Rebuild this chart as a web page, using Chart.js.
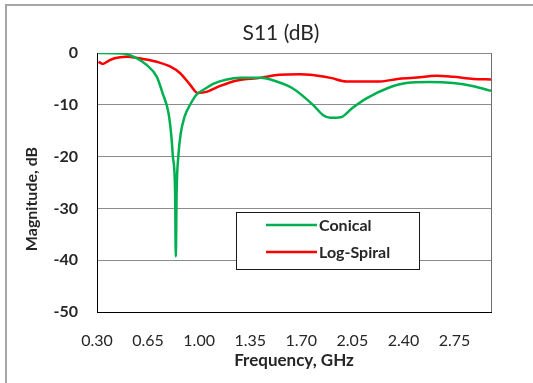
<!DOCTYPE html>
<html>
<head>
<meta charset="utf-8">
<title>S11 (dB)</title>
<script src="https://cdn.jsdelivr.net/npm/chart.js@4/dist/chart.umd.min.js"></script>
<style>
    html, body { margin: 0; padding: 0; background: #fff; }
    #chart { display: block; }
</style>
</head>
<body>
<canvas id="chart" width="533" height="383"></canvas>
<script>
// Data (frequency in GHz, magnitude in dB)
const conicalFreq = [0.31, 0.48, 0.57, 0.64, 0.71, 0.75, 0.79, 0.81, 0.82, 0.835, 0.84, 0.846, 0.857, 0.874, 0.90, 0.94, 0.98, 1.03, 1.10, 1.19, 1.28, 1.42, 1.53, 1.64, 1.78, 1.85, 1.90, 1.97, 2.05, 2.15, 2.29, 2.42, 2.58, 2.74, 2.88, 3.00];
const conicalDb = [0, -0.1, -1.0, -2.3, -4.6, -7.8, -11.6, -16.2, -20, -26.5, -39.3, -26.5, -20, -15.5, -12.3, -9.9, -8.1, -7.1, -5.9, -5.1, -4.8, -4.8, -5.5, -6.8, -10, -12, -12.5, -12.4, -10.6, -8.7, -6.8, -5.8, -5.6, -5.8, -6.4, -7.3];

const spiralFreq = [0.31, 0.34, 0.38, 0.42, 0.50, 0.59, 0.71, 0.80, 0.87, 0.94, 0.99, 1.05, 1.14, 1.26, 1.42, 1.55, 1.69, 1.76, 1.90, 2.01, 2.24, 2.36, 2.47, 2.63, 2.74, 2.88, 3.00];
const spiralDb = [-1.7, -2.1, -1.5, -1.0, -0.7, -1.0, -1.7, -2.6, -3.9, -6.2, -7.7, -7.5, -6.4, -5.3, -4.8, -4.2, -4.1, -4.2, -4.8, -5.5, -5.5, -5.0, -4.8, -4.4, -4.6, -5.0, -5.1];

const seriesNames = ['Conical', 'Log-Spiral'];
const xTickLabels = [0.30, 0.65, 1.00, 1.35, 1.70, 2.05, 2.40, 2.75];
const yTickLabels = [0, -10, -20, -30, -40, -50];

const FONT = 'Lato, "Open Sans", sans-serif';
const TEXT = '#262626';

function toPoints(xs, ys) {
    return xs.map((x, i) => ({ x, y: ys[i] }));
}

// Frame, titles, plot border and boxed legend (Excel look)
const decorations = {
    id: 'decorations',
    beforeDraw(chart) {
        const ctx = chart.ctx;
        ctx.save();
        ctx.fillStyle = '#fff';
        ctx.fillRect(0, 0, chart.width, chart.height);
        ctx.strokeStyle = '#a6a6a6';
        ctx.lineWidth = 2;
        ctx.beginPath();
        ctx.moveTo(6, chart.height);
        ctx.lineTo(6, 5);
        ctx.lineTo(chart.width, 5);
        ctx.stroke();
        ctx.restore();
    },
    afterDraw(chart) {
        const ctx = chart.ctx;
        const area = chart.chartArea;
        ctx.save();

        // right edge of the plot area
        ctx.strokeStyle = '#6e6e6e';
        ctx.lineWidth = 1;
        ctx.beginPath();
        ctx.moveTo(area.right + 0.5, area.top);
        ctx.lineTo(area.right + 0.5, area.bottom);
        ctx.stroke();

        // chart title
        ctx.fillStyle = TEXT;
        ctx.textAlign = 'center';
        ctx.textBaseline = 'middle';
        ctx.font = '21px ' + FONT;
        ctx.fillText('S11 (dB)', 281, 33);

        // y axis title
        ctx.save();
        ctx.translate(32, 199);
        ctx.rotate(-Math.PI / 2);
        ctx.font = 'bold 16px ' + FONT;
        ctx.fillText('Magnitude, dB', 0, 0);
        ctx.restore();

        // legend box
        const box = { left: 236, top: 212, right: 419, bottom: 269 };
        ctx.fillStyle = '#fff';
        ctx.fillRect(box.left, box.top, box.right - box.left, box.bottom - box.top);
        ctx.strokeStyle = '#1a1a1a';
        ctx.lineWidth = 1;
        ctx.strokeRect(box.left + 0.5, box.top + 0.5, box.right - box.left, box.bottom - box.top);

        ctx.font = 'bold 16px ' + FONT;
        ctx.textAlign = 'left';
        chart.data.datasets.forEach((ds, i) => {
            const y = 225 + i * 27;
            ctx.strokeStyle = ds.borderColor;
            ctx.lineWidth = 2.5;
            ctx.beginPath();
            ctx.moveTo(266, y);
            ctx.lineTo(317, y);
            ctx.stroke();
            ctx.fillStyle = TEXT;
            ctx.fillText(ds.label, 319, y + 1);
        });

        ctx.restore();
    }
};

new Chart(document.getElementById('chart'), {
    type: 'line',
    data: {
        datasets: [
            {
                label: seriesNames[0],
                data: toPoints(conicalFreq, conicalDb),
                borderColor: '#00b050',
                borderWidth: 2.5,
                pointRadius: 0,
                cubicInterpolationMode: 'monotone'
            },
            {
                label: seriesNames[1],
                data: toPoints(spiralFreq, spiralDb),
                borderColor: '#ff0000',
                borderWidth: 2.5,
                pointRadius: 0,
                cubicInterpolationMode: 'monotone'
            }
        ]
    },
    options: {
        responsive: false,
        animation: false,
        devicePixelRatio: 1,
        layout: { padding: { top: 53, right: 42, bottom: 0, left: 0 } },
        plugins: {
            legend: { display: false },
            title: { display: false },
            tooltip: { enabled: false }
        },
        scales: {
            x: {
                type: 'linear',
                min: 0.3,
                max: 3.0,
                afterBuildTicks(scale) {
                    scale.ticks = xTickLabels.map(v => ({ value: v }));
                },
                afterFit(scale) {
                    scale.height = 71;
                },
                grid: { display: false, drawTicks: false },
                border: { display: true, color: '#000', width: 1 },
                ticks: {
                    padding: 19,
                    maxRotation: 0,
                    autoSkip: false,
                    color: TEXT,
                    font: { family: FONT, size: 16 },
                    callback: v => v.toFixed(2)
                },
                title: {
                    display: true,
                    text: 'Frequency, GHz',
                    color: TEXT,
                    font: { family: FONT, size: 17, weight: 'bold' },
                    padding: { top: 0, bottom: 12 }
                }
            },
            y: {
                min: -50,
                max: 0,
                afterBuildTicks(scale) {
                    scale.ticks = yTickLabels.map(v => ({ value: v }));
                },
                afterFit(scale) {
                    scale.width = 97;
                },
                grid: { color: '#8c8c8c', lineWidth: 1, drawTicks: false },
                border: { display: true, color: '#000', width: 1 },
                ticks: {
                    padding: 19,
                    color: TEXT,
                    font: { family: FONT, size: 16, weight: 'bold' }
                }
            }
        }
    },
    plugins: [decorations]
});
</script>
</body>
</html>
